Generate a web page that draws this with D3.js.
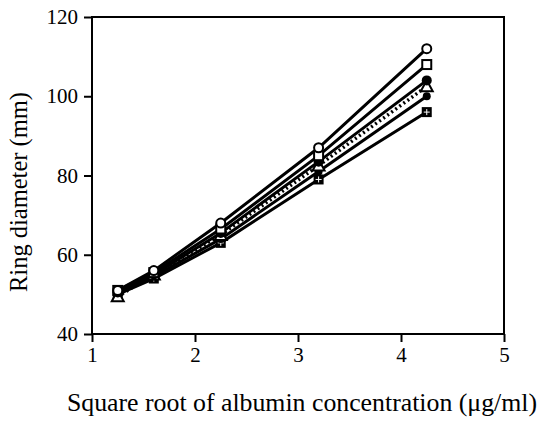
<!DOCTYPE html>
<html>
<head>
<meta charset="utf-8">
<script src="https://cdn.jsdelivr.net/npm/d3@7"></script>
<style>
  body { margin: 0; background: #fff; }
  text { font-family: "Liberation Serif", "Times New Roman", serif; fill: #000; }
</style>
</head>
<body>
<svg id="chart" width="538" height="422"></svg>
<script>
const sqrtConc = [1.25, 1.6, 2.25, 3.2, 4.25]

const openCircle = [51, 56, 68, 87, 112]
const openSquare = [51, 55.5, 66.5, 85, 108]
const filledCircle = [50.5, 55, 65.5, 83.5, 104]
const triangle = [49.5, 55, 65, 82.5, 102.5]
const smallDot = [50, 54.5, 64, 81, 100]
const crossSquare = [50, 54, 63, 79, 96]

const xTicks = [1, 2, 3, 4, 5]
const yTicks = [40, 60, 80, 100, 120]

const series = [
  { values: openCircle, marker: "openCircle", dash: null },
  { values: openSquare, marker: "openSquare", dash: null },
  { values: filledCircle, marker: "filledCircle", dash: null },
  { values: triangle, marker: "triangle", dash: "2,3" },
  { values: smallDot, marker: "smallDot", dash: null },
  { values: crossSquare, marker: "crossSquare", dash: null },
]

const plotLeft = 92, plotRight = 504, plotTop = 17, plotBottom = 334
const serif = "'Liberation Serif', 'Times New Roman', serif"

const svg = d3.select("#chart")

const x = d3.scaleLinear().domain([1, 5]).range([plotLeft, plotRight])
const y = d3.scaleLinear().domain([40, 120]).range([plotBottom, plotTop])

// frame
svg.append("rect")
  .attr("x", plotLeft).attr("y", plotTop)
  .attr("width", plotRight - plotLeft).attr("height", plotBottom - plotTop)
  .attr("fill", "none").attr("stroke", "#000").attr("stroke-width", 2)

const xAxis = svg.append("g")
  .attr("transform", `translate(0,${plotBottom})`)
  .call(d3.axisBottom(x).tickValues(xTicks).tickSize(8).tickPadding(5).tickFormat(d3.format("d")))
  .attr("font-family", serif).attr("font-size", 21)
xAxis.select(".domain").remove()
xAxis.selectAll("line").attr("stroke-width", 2)
xAxis.selectAll("text").style("font-family", serif)

const yAxis = svg.append("g")
  .attr("transform", `translate(${plotLeft},0)`)
  .call(d3.axisLeft(y).tickValues(yTicks).tickSize(8).tickPadding(6))
  .attr("font-family", serif).attr("font-size", 21)
yAxis.select(".domain").remove()
yAxis.selectAll("line").attr("stroke-width", 2)
yAxis.selectAll("text").style("font-family", serif)

svg.append("text")
  .attr("x", 302).attr("y", 411)
  .attr("text-anchor", "middle")
  .style("font-size", "25.8px")
  .text("Square root of albumin concentration (\u03bcg/ml)")

svg.append("text")
  .attr("transform", "translate(27,192) rotate(-90)")
  .attr("text-anchor", "middle")
  .style("font-size", "24.5px")
  .text("Ring diameter (mm)")

const line = d3.line().x((d, i) => x(sqrtConc[i])).y(d => y(d))

series.forEach(s => {
  svg.append("path")
    .datum(s.values)
    .attr("d", line)
    .attr("fill", "none")
    .attr("stroke", "#000")
    .attr("stroke-width", s.dash ? 3.5 : 3)
    .attr("stroke-dasharray", s.dash)
})

series.slice().reverse().forEach(s => {
  const g = svg.append("g")
  s.values.forEach((v, i) => {
    const cx = x(sqrtConc[i]), cy = y(v)
    if (s.marker === "openCircle") {
      g.append("circle").attr("cx", cx).attr("cy", cy).attr("r", 4.5)
        .attr("fill", "#fff").attr("stroke", "#000").attr("stroke-width", 2)
    } else if (s.marker === "openSquare") {
      g.append("rect").attr("x", cx - 4.5).attr("y", cy - 4.5).attr("width", 9).attr("height", 9)
        .attr("fill", "#fff").attr("stroke", "#000").attr("stroke-width", 2)
    } else if (s.marker === "filledCircle") {
      g.append("circle").attr("cx", cx).attr("cy", cy).attr("r", 5).attr("fill", "#000")
    } else if (s.marker === "triangle") {
      g.append("path")
        .attr("d", `M${cx},${cy - 6}L${cx + 6},${cy + 5}L${cx - 6},${cy + 5}Z`)
        .attr("fill", "#fff").attr("stroke", "#000").attr("stroke-width", 2)
    } else if (s.marker === "smallDot") {
      g.append("circle").attr("cx", cx).attr("cy", cy).attr("r", 4).attr("fill", "#000")
    } else if (s.marker === "crossSquare") {
      g.append("rect").attr("x", cx - 5).attr("y", cy - 5).attr("width", 10).attr("height", 10).attr("fill", "#000")
      g.append("path").attr("d", `M${cx - 3},${cy}H${cx + 3}M${cx},${cy - 3}V${cy + 3}`)
        .attr("stroke", "#fff").attr("stroke-width", 1)
    }
  })
})
</script>
</body>
</html>
